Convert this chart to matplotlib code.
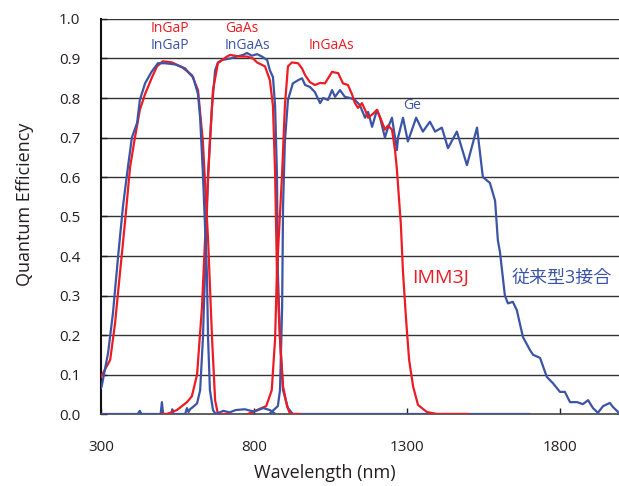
import matplotlib
matplotlib.use("Agg")
import matplotlib.pyplot as plt

# IMM3J (red) sub-cells
red_ingap_nm = [300, 330, 346, 362, 379, 395, 411, 427, 444, 467, 483, 502, 532, 565, 597, 617, 633, 650, 663, 673, 682, 720]
red_ingap_qe = [0.094, 0.137, 0.23, 0.357, 0.49, 0.625, 0.70, 0.77, 0.81, 0.853, 0.88, 0.893, 0.89, 0.878, 0.858, 0.82, 0.69, 0.44, 0.19, 0.035, 0.0, 0.0]

red_gaas_nm = [500, 516, 548, 581, 597, 614, 630, 640, 656, 666, 682, 712, 722, 754, 777, 797, 810, 836, 852, 862, 869, 875, 885, 895, 908, 918, 950]
red_gaas_qe = [0.0, 0.0, 0.01, 0.03, 0.045, 0.10, 0.27, 0.44, 0.69, 0.82, 0.888, 0.905, 0.909, 0.905, 0.905, 0.90, 0.89, 0.88, 0.845, 0.78, 0.61, 0.36, 0.19, 0.07, 0.02, 0.0, 0.0]

red_ingaas_nm = [780, 840, 858, 869, 875, 892, 901, 911, 924, 944, 957, 967, 983, 999, 1016, 1032, 1055, 1075, 1091, 1107,
                 1120, 1130, 1140, 1153, 1163, 1173, 1189, 1202, 1218, 1228, 1238, 1251, 1261, 1267, 1280, 1287, 1297, 1307,
                 1320, 1336, 1365, 1398, 1500]
red_ingaas_qe = [0.0, 0.02, 0.06, 0.19, 0.36, 0.61, 0.78, 0.88, 0.89, 0.888, 0.875, 0.858, 0.84, 0.833, 0.838, 0.837, 0.866, 0.863, 0.837, 0.833,
                 0.81, 0.787, 0.775, 0.787, 0.77, 0.75, 0.76, 0.77, 0.74, 0.72, 0.73, 0.72, 0.668, 0.62, 0.48, 0.36, 0.24, 0.137,
                 0.07, 0.023, 0.005, 0.0, 0.0]

# conventional 3-junction (blue) sub-cells
blue_ingap_nm = [300, 302, 323, 339, 356, 372, 388, 401, 418, 427, 444, 465, 486, 509, 542, 575, 591, 601, 617, 624, 633, 646, 650, 656, 666, 675,
                 700, 720, 740, 770, 800, 830, 852, 870]
blue_ingap_qe = [0.066, 0.069, 0.154, 0.255, 0.40, 0.527, 0.625, 0.70, 0.737, 0.795, 0.837, 0.866, 0.888, 0.888, 0.885, 0.875, 0.86, 0.853, 0.81, 0.75, 0.61, 0.36, 0.19, 0.06, 0.01, 0.0,
                 0.008, 0.004, 0.01, 0.012, 0.006, 0.015, 0.01, 0.0]

blue_ingaas_nm = [300, 420, 427, 432, 495, 499, 503, 530, 533, 537, 575, 581, 586, 591, 601, 614, 624, 633, 640, 650, 663, 673, 682,
                  695, 722, 744, 764, 777, 793, 810, 826, 843, 852, 862, 869, 875, 878, 885, 895, 911, 927, 1000, 1700]
blue_ingaas_qe = [0.0, 0.0, 0.008, 0.0, 0.0, 0.03, 0.0, 0.0, 0.012, 0.0, 0.0, 0.015, 0.005, 0.012, 0.018, 0.027, 0.06, 0.19, 0.36, 0.61, 0.78, 0.87, 0.89,
                  0.896, 0.90, 0.905, 0.909, 0.914, 0.907, 0.911, 0.905, 0.896, 0.87, 0.853, 0.78, 0.61, 0.36, 0.19, 0.06, 0.015, 0.0, 0.0, 0.0]

blue_ge_nm = [850, 878, 885, 892, 895, 901, 911, 927, 944, 957, 967, 983, 999, 1016, 1026, 1042, 1055, 1065, 1081, 1097, 1114, 1130,
              1146, 1163, 1173, 1186, 1202, 1212, 1228, 1238, 1251, 1261, 1267, 1271, 1287, 1303, 1330, 1352, 1375, 1392, 1414,
              1434, 1463, 1496, 1529, 1548, 1571, 1588, 1597, 1604, 1620, 1630, 1646, 1659, 1679, 1702, 1712, 1735, 1757, 1777,
              1800, 1816, 1833, 1856, 1875, 1892, 1908, 1924, 1941, 1963, 1973, 1990]
blue_ge_qe = [0.0, 0.02, 0.06, 0.27, 0.527, 0.69, 0.795, 0.837, 0.845, 0.85, 0.833, 0.828, 0.815, 0.787, 0.80, 0.795, 0.82, 0.803, 0.82, 0.803, 0.80, 0.795,
              0.782, 0.75, 0.765, 0.727, 0.77, 0.75, 0.70, 0.725, 0.75, 0.70, 0.668, 0.70, 0.75, 0.69, 0.75, 0.715, 0.74, 0.715, 0.725,
              0.673, 0.715, 0.63, 0.725, 0.60, 0.585, 0.54, 0.44, 0.41, 0.30, 0.28, 0.284, 0.263, 0.195, 0.162, 0.15, 0.142, 0.094, 0.078,
              0.056, 0.056, 0.03, 0.03, 0.025, 0.035, 0.015, 0.003, 0.02, 0.028, 0.018, 0.005]

x_ticks = [300, 800, 1300, 1800]
y_ticks = [0.0, 0.1, 0.2, 0.3, 0.4, 0.5, 0.6, 0.7, 0.8, 0.9, 1.0]

RED = '#ed1c24'
BLUE = '#3b54a5'
TXT = '#231f20'
plt.rcParams['font.family'] = ['Open Sans', 'Noto Sans CJK JP', 'DejaVu Sans']

fig = plt.figure(figsize=(6.19, 4.86), dpi=100)
ax = fig.add_axes([101/619, 1 - 414/486, 518/619, 395/486])

for yv in y_ticks[1:]:
    ax.axhline(yv, color='#333333', lw=1.0, zorder=1)

lw = 1.6
ax.plot(blue_ingaas_nm, blue_ingaas_qe, color=BLUE, lw=lw, zorder=3)
ax.plot(blue_ge_nm, blue_ge_qe, color=BLUE, lw=lw, zorder=3)
ax.plot(red_ingap_nm, red_ingap_qe, color=RED, lw=lw, zorder=4)
ax.plot(red_gaas_nm, red_gaas_qe, color=RED, lw=lw, zorder=4)
ax.plot(red_ingaas_nm, red_ingaas_qe, color=RED, lw=lw, zorder=4)
ax.plot(blue_ingap_nm, blue_ingap_qe, color=BLUE, lw=lw, zorder=5)

ax.set_xlim(300, 1993)
ax.set_ylim(0, 1.0)
ax.set_xticks(x_ticks)
ax.set_yticks(y_ticks)
ax.set_yticklabels(['%.1f' % v for v in y_ticks])
ax.tick_params(direction='in', length=4, width=1, colors=TXT, labelsize=11)
ax.tick_params(axis='x', pad=19)
ax.tick_params(axis='y', pad=15)

for s in ['top', 'right']:
    ax.spines[s].set_visible(False)
ax.spines['left'].set_linewidth(1.5)
ax.spines['left'].set_color('#111111')
ax.spines['bottom'].set_linewidth(1.2)
ax.spines['bottom'].set_color('#444444')

ax.set_xlabel('Wavelength (nm)', fontsize=13, color=TXT)
ax.xaxis.set_label_coords(0.432, -0.127)
ax.set_ylabel('Quantum Efficiency', fontsize=13, color=TXT)
ax.yaxis.set_label_coords(-0.129, 0.53)

kw = dict(ha='center', va='center', fontsize=10)
ax.text(525, 0.977, 'InGaP', color=RED, **kw)
ax.text(525, 0.932, 'InGaP', color=BLUE, **kw)
ax.text(761, 0.977, 'GaAs', color=RED, **kw)
ax.text(780, 0.934, 'InGaAs', color=BLUE, **kw)
ax.text(1052, 0.932, 'InGaAs', color=RED, **kw)
ax.text(1316, 0.78, 'Ge', color=BLUE, **kw)
ax.text(1411, 0.344, 'IMM3J', color=RED, ha='center', va='center', fontsize=14)
ax.text(1807, 0.344, '従来型3接合', color=BLUE, ha='center', va='center', fontsize=13)

fig.savefig('out.png', dpi=100)
